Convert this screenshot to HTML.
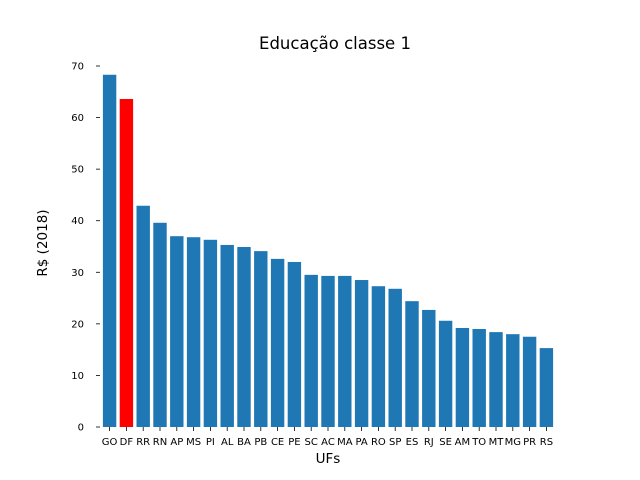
<!DOCTYPE html>
<html><head><meta charset="utf-8"><style>
body{margin:0;background:#fff;}
svg{display:block;font-family:"DejaVu Sans","Liberation Sans",sans-serif;}
</style></head><body>
<svg id="chart" width="640" height="480">
<text x="335" y="49" text-anchor="middle" font-size="16.5">Educação classe 1</text>
<text x="328" y="463" text-anchor="middle" font-size="13.5">UFs</text>
<text transform="translate(47,243) rotate(-90)" text-anchor="middle" font-size="13.5">R$ (2018)</text>
<g id="bars"></g><g id="yticks"></g><g id="xticks"></g>
</svg>
<script>
const categories=["GO","DF","RR","RN","AP","MS","PI","AL","BA","PB","CE","PE","SC","AC","MA","PA","RO","SP","ES","RJ","SE","AM","TO","MT","MG","PR","RS"];
const values=[68.3,63.6,42.9,39.6,37.0,36.8,36.3,35.3,34.9,34.1,32.6,32.0,29.5,29.3,29.3,28.5,27.3,26.8,24.4,22.7,20.6,19.2,19.0,18.4,18.0,17.5,15.3];
const highlighted=["DF"];
const yTicks=[0,10,20,30,40,50,60,70];
const NS="http://www.w3.org/2000/svg";
const y=v=>427-v*(361/70);
const step=16.8, bw=13.4;
const xc=i=>109.6+i*step;
const bars=document.getElementById('bars'),yt=document.getElementById('yticks'),xt=document.getElementById('xticks');
values.forEach((v,i)=>{
 const r=document.createElementNS(NS,'rect');
 r.setAttribute('x',xc(i)-bw/2);r.setAttribute('y',y(v));r.setAttribute('width',bw);r.setAttribute('height',y(0)-y(v));
 r.setAttribute('fill',highlighted.includes(categories[i])?'#ff0000':'#1f77b4');
 
 
 bars.appendChild(r);
 const t=document.createElementNS(NS,'text');
 t.setAttribute('x',xc(i));t.setAttribute('y',445);t.setAttribute('text-anchor','middle');t.setAttribute('font-size','10');
 t.textContent=categories[i];
 
 
 xt.appendChild(t);
 const l=document.createElementNS(NS,'line');
 l.setAttribute('x1',xc(i));l.setAttribute('x2',xc(i));l.setAttribute('y1',427);l.setAttribute('y2',431);l.setAttribute('stroke','#000');l.setAttribute('stroke-width','0.8');
 
 
 xt.appendChild(l);
});
yTicks.forEach(v=>{
 const l=document.createElementNS(NS,'line');
 l.setAttribute('x1',96);l.setAttribute('x2',100);l.setAttribute('y1',y(v));l.setAttribute('y2',y(v));l.setAttribute('stroke','#000');l.setAttribute('stroke-width','0.8');
 
 
 yt.appendChild(l);
 const t=document.createElementNS(NS,'text');
 t.setAttribute('x',84);t.setAttribute('y',y(v)+3.5);t.setAttribute('text-anchor','end');t.setAttribute('font-size','10');
 t.textContent=v;
 
 
 yt.appendChild(t);
});
</script>
</body></html>
